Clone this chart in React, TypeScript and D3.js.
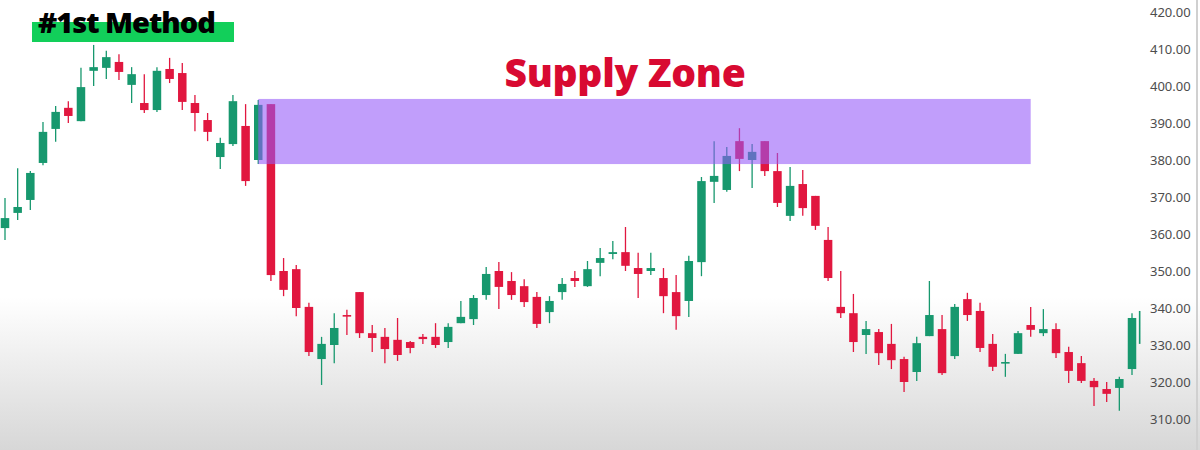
import * as d3 from 'd3';
import React, { useRef, useEffect } from 'react';

// candle values, oldest first
const opens = [
  361.6, 365.7, 369.2, 379.2, 388.4, 394.1, 390.5, 404.1, 404.9, 406.5,
  400.3, 395.4, 393.5, 404.6, 403.5, 395.4, 390.8, 380.8, 384.3, 389.2,
  380.0, 395.1, 350.0, 350.5, 340.3, 326.2, 330.0, 338.1, 344.3, 333.2,
  332.2, 331.4, 330.8, 332.2, 332.2, 330.8, 335.9, 337.0, 343.5, 350.0,
  347.3, 345.9, 343.0, 338.9, 344.3, 348.1, 345.9, 352.2, 354.6, 355.1,
  350.8, 350.0, 348.1, 344.3, 341.9, 352.4, 374.1, 371.9, 385.1, 380.0,
  385.1, 377.0, 364.9, 373.5, 370.3, 358.4, 340.3, 338.6, 332.7, 333.5,
  330.3, 326.2, 322.7, 332.4, 334.3, 327.0, 342.4, 339.2, 330.3, 325.1,
  327.6, 335.4, 333.2, 334.3, 328.1, 325.1, 320.3, 318.1, 318.4, 323.5,
];
const highs = [
  369.7, 377.8, 377.0, 390.3, 394.6, 395.9, 404.9, 411.1, 409.5, 408.6,
  405.1, 403.2, 405.1, 407.6, 406.2, 397.6, 392.7, 386.0, 397.6, 395.1,
  396.2, 395.1, 353.5, 351.6, 341.4, 332.2, 338.6, 339.5, 344.3, 335.4,
  334.6, 337.3, 331.1, 333.0, 335.9, 335.9, 341.9, 343.5, 351.1, 352.4,
  349.7, 347.8, 344.3, 343.2, 348.1, 350.0, 352.7, 356.2, 358.1, 361.9,
  354.9, 354.9, 350.8, 348.9, 354.1, 375.4, 385.1, 383.5, 388.6, 384.3,
  385.1, 381.9, 378.1, 377.3, 370.3, 361.9, 350.0, 343.8, 336.5, 334.3,
  335.7, 326.8, 332.2, 347.3, 338.1, 341.1, 344.1, 341.4, 333.0, 327.6,
  333.8, 340.3, 339.7, 335.9, 329.5, 327.0, 321.1, 320.0, 321.4, 338.6,
];
const lows = [
  358.4, 363.8, 366.5, 378.6, 384.9, 390.0, 390.5, 400.0, 401.9, 401.6,
  395.4, 392.7, 393.0, 400.8, 393.5, 387.8, 385.1, 377.6, 383.8, 373.0,
  378.9, 347.3, 343.2, 337.8, 327.0, 319.2, 325.1, 332.7, 331.9, 328.1,
  325.1, 325.7, 327.8, 330.3, 329.2, 329.2, 335.9, 335.4, 342.2, 339.7,
  342.2, 340.3, 334.6, 335.9, 342.2, 345.7, 345.7, 348.6, 353.2, 350.0,
  342.7, 348.9, 338.6, 334.1, 337.6, 348.6, 368.4, 371.4, 377.0, 372.4,
  375.7, 367.3, 363.5, 364.9, 361.1, 347.3, 337.3, 328.1, 327.6, 324.6,
  323.5, 317.3, 320.3, 332.4, 321.9, 326.2, 336.5, 328.1, 323.0, 321.4,
  327.6, 332.2, 332.4, 326.5, 319.7, 319.7, 313.5, 314.6, 312.2, 321.9,
];
const closes = [
  364.3, 367.3, 376.5, 387.6, 393.0, 391.9, 399.7, 405.1, 407.8, 403.8,
  403.2, 393.5, 404.1, 401.9, 395.7, 392.7, 387.6, 384.6, 395.9, 374.3,
  394.9, 348.9, 344.9, 340.0, 328.1, 330.3, 334.6, 337.8, 333.2, 331.9,
  328.9, 327.3, 329.2, 331.6, 330.0, 334.9, 337.6, 342.7, 349.2, 345.7,
  343.5, 341.6, 335.7, 341.9, 346.5, 347.3, 350.5, 353.5, 355.1, 351.4,
  349.2, 350.8, 343.2, 337.8, 352.7, 374.3, 375.7, 381.1, 380.3, 382.2,
  377.0, 368.4, 373.0, 367.0, 362.2, 348.1, 338.6, 330.8, 334.3, 327.8,
  325.9, 320.0, 330.5, 338.1, 322.4, 340.3, 338.1, 329.2, 324.1, 325.4,
  333.2, 334.1, 334.3, 327.8, 323.0, 320.3, 318.6, 316.8, 320.8, 337.3,
];
// last bar still forming: only its wick shows
const partialBar = { high: 339.2, low: 330.3 };

const priceTicks = [310, 320, 330, 340, 350, 360, 370, 380, 390, 400, 410, 420];
const supplyZone = { fromBar: 20, toBar: 81, top: 396.5, bottom: 378.9 };
const titleText = '#1st Method';
const zoneLabel = 'Supply Zone';

const W = 1200;
const H = 450;
const UP = '#17986e';
const DOWN = '#e1173f';

export default function App() {
  const axisRef = useRef<SVGGElement | null>(null);

  const x = d3.scaleLinear().domain([0, opens.length - 1]).range([5, 1132]);
  const y = d3.scaleLinear().domain([310, 420]).range([419, 12]);
  const bodyW = 8.5;

  useEffect(() => {
    const axis = d3
      .axisRight(y)
      .tickValues(priceTicks)
      .tickSize(0)
      .tickPadding(0)
      .tickFormat(d3.format('.2f') as any);
    const g = d3.select(axisRef.current).call(axis);
    g.select('.domain').remove();
    g.selectAll('text')
      .attr('fill', '#4d4d4d')
      .attr('font-size', 13)
      .attr('font-family', '"Noto Sans", sans-serif');
  }, []);

  const bars = opens.map((o, i) => ({ o, h: highs[i], l: lows[i], c: closes[i], i }));

  return (
    <svg width={W} height={H} style={{ position: 'absolute', left: 0, top: 0 }}>
      <defs>
        <linearGradient id="bg" x1="0" y1="0" x2="0" y2="1">
          <stop offset="0.66" stopColor="#ffffff" />
          <stop offset="1" stopColor="#d7d7d7" />
        </linearGradient>
      </defs>
      <rect width={W} height={H} fill="url(#bg)" />
      <line x1={1197} x2={1197} y1={0} y2={H} stroke="#d0d0d0" strokeWidth={2} />

      <g>
        {bars.map(b => {
          const col = b.c >= b.o ? UP : DOWN;
          const top = y(Math.max(b.o, b.c));
          const bot = y(Math.min(b.o, b.c));
          return (
            <g key={b.i}>
              <line x1={x(b.i)} x2={x(b.i)} y1={y(b.h)} y2={y(b.l)} stroke={col} strokeWidth={1.3} />
              <rect
                x={x(b.i) - bodyW / 2}
                y={top}
                width={bodyW}
                height={Math.max(1.6, bot - top)}
                fill={col}
              />
            </g>
          );
        })}
        <line
          x1={x(opens.length) - 5}
          x2={x(opens.length) - 5}
          y1={y(partialBar.high)}
          y2={y(partialBar.low)}
          stroke={UP}
          strokeWidth={1.6}
        />
      </g>

      <rect
        x={x(supplyZone.fromBar)}
        y={y(supplyZone.top)}
        width={x(supplyZone.toBar) - x(supplyZone.fromBar)}
        height={y(supplyZone.bottom) - y(supplyZone.top)}
        fill="rgba(148, 88, 248, 0.58)"
      />

      <g ref={axisRef} transform="translate(1150,0)" />

      <rect x={32} y={22} width={202} height={20} fill="#12cf5a" />
      <text
        x={38}
        y={33}
        fontFamily='"Open Sans", sans-serif'
        fontWeight={800}
        fontSize={29}
        fill="#000"
        letterSpacing={-1}
      >
        {titleText}
      </text>
      <text
        x={625}
        y={87}
        textAnchor="middle"
        fontFamily='"Open Sans", sans-serif'
        fontWeight={800}
        fontSize={39}
        fill="#d80a31"
        letterSpacing={-0.3}
      >
        {zoneLabel}
      </text>
    </svg>
  );
}
